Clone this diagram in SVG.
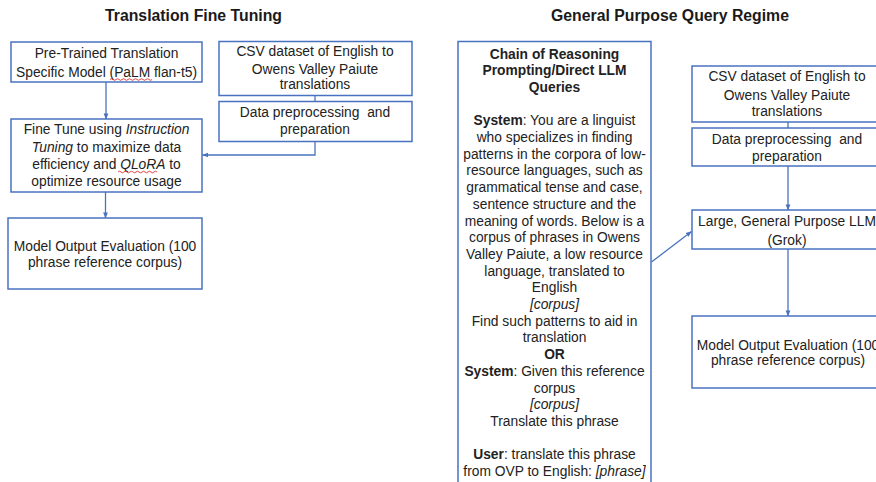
<svg xmlns="http://www.w3.org/2000/svg" width="876" height="482" viewBox="0 0 876 482">
<defs>
<marker id="ah" viewBox="0 0 8 8" refX="7.5" refY="4" markerWidth="6" markerHeight="6" orient="auto" markerUnits="userSpaceOnUse">
<path d="M0,0.8 L8,4 L0,7.2 z" fill="#4a72c0"/>
</marker>
<style>
.box{fill:#fff;stroke:#4a72c0;stroke-width:1.5}
.t{font-family:"Liberation Sans",Arial,sans-serif;font-size:13.8px;fill:#222;text-anchor:middle}
.h{font-family:"Liberation Sans",Arial,sans-serif;font-size:15.8px;font-weight:bold;fill:#1a1a1a;text-anchor:middle}
.b{font-weight:bold}
.i{font-style:italic}
.c{fill:none;stroke:#4a72c0;stroke-width:1.3}
.sq{fill:none;stroke:#e03030;stroke-width:0.9}
</style>
</defs>
<rect width="876" height="482" fill="#fff"/>

<text class="h" x="193.5" y="20.5">Translation Fine Tuning</text>
<text class="h" x="670" y="20.5">General Purpose Query Regime</text>

<g id="connectors">
<line class="c" x1="106" y1="82" x2="106" y2="119" marker-end="url(#ah)"/>
<line class="c" x1="315" y1="95.5" x2="315" y2="101.5"/>
<polyline class="c" points="315,141.5 315,155 202.5,155" marker-end="url(#ah)"/>
<line class="c" x1="105.5" y1="192" x2="105.5" y2="218" marker-end="url(#ah)"/>
<line class="c" x1="788" y1="122" x2="788" y2="128"/>
<line class="c" x1="788" y1="166" x2="788" y2="210" marker-end="url(#ah)"/>
<line class="c" x1="788" y1="249" x2="788" y2="316" marker-end="url(#ah)"/>
<line class="c" x1="651.5" y1="262" x2="691.5" y2="231.5" marker-end="url(#ah)"/>
</g>

<g id="pretrained">
<rect class="box" x="11" y="42" width="191" height="40"/>
<text class="t" x="106.5" y="58">Pre-Trained Translation</text>
<text class="t" x="106.5" y="77">Specific Model (PaLM flan-t5)</text>
<path class="sq" d="M110,79.5 q1.5,-1.6 3,0 t3,0 t3,0 t3,0 t3,0 t3,0 t3,0 t3,0 t3,0 t3,0 t3,0 t3,0 t3,0 t3,0"/>
</g>

<g id="csv-left">
<rect class="box" x="219" y="41.5" width="193" height="54"/>
<text class="t" x="315" y="55.5">CSV dataset of English to</text>
<text class="t" x="315" y="73.5">Owens Valley Paiute</text>
<text class="t" x="315" y="89">translations</text>
</g>

<g id="prep-left">
<rect class="box" x="219" y="101.5" width="193" height="40"/>
<text class="t" x="315" y="116.5" xml:space="preserve">Data preprocessing  and</text>
<text class="t" x="315" y="134">preparation</text>
</g>

<g id="finetune">
<rect class="box" x="11" y="119" width="191" height="73"/>
<text class="t" x="106.5" y="133.5">Fine Tune using <tspan class="i">Instruction</tspan></text>
<text class="t" x="106.5" y="152"><tspan class="i">Tuning</tspan> to maximize data</text>
<text class="t" x="106.5" y="168.5">efficiency and <tspan class="i">QLoRA</tspan> to</text>
<text class="t" x="106.5" y="186">optimize resource usage</text>
<path class="sq" d="M118,172 q1.5,-1.6 3,0 t3,0 t3,0 t3,0 t3,0 t3,0 t3,0 t3,0 t3,0 t3,0 t3,0 t3,0 t3,0"/>
</g>

<g id="eval-left">
<rect class="box" x="8" y="218" width="194" height="71"/>
<text class="t" x="105" y="251">Model Output Evaluation (100</text>
<text class="t" x="105" y="267">phrase reference corpus)</text>
</g>

<g id="prompting">
<rect class="box" x="458" y="41.5" width="193" height="450"/>
<text class="t" x="554.5" y="58.5" font-weight="bold">Chain of Reasoning</text>
<text class="t" x="554.5" y="75.2" font-weight="bold">Prompting/Direct LLM</text>
<text class="t" x="554.5" y="91.9" font-weight="bold">Queries</text>
<text class="t" x="554.5" y="125.3"><tspan class="b">System</tspan>: You are a linguist</text>
<text class="t" x="554.5" y="142">who specializes in finding</text>
<text class="t" x="554.5" y="158.7">patterns in the corpora of low-</text>
<text class="t" x="554.5" y="175.4">resource languages, such as</text>
<text class="t" x="554.5" y="192.1">grammatical tense and case,</text>
<text class="t" x="554.5" y="208.8">sentence structure and the</text>
<text class="t" x="554.5" y="225.5">meaning of words. Below is a</text>
<text class="t" x="554.5" y="242.2">corpus of phrases in Owens</text>
<text class="t" x="554.5" y="258.9">Valley Paiute, a low resource</text>
<text class="t" x="554.5" y="275.6">language, translated to</text>
<text class="t" x="554.5" y="292.3">English</text>
<text class="t i" x="554.5" y="309">[corpus]</text>
<text class="t" x="554.5" y="325.7">Find such patterns to aid in</text>
<text class="t" x="554.5" y="342.4">translation</text>
<text class="t b" x="554.5" y="359.1">OR</text>
<text class="t" x="554.5" y="375.8"><tspan class="b">System</tspan>: Given this reference</text>
<text class="t" x="554.5" y="392.5">corpus</text>
<text class="t i" x="554.5" y="409.2">[corpus]</text>
<text class="t" x="554.5" y="425.9">Translate this phrase</text>
<text class="t" x="554.5" y="459.3"><tspan class="b">User</tspan>: translate this phrase</text>
<text class="t" x="554.5" y="476">from OVP to English: <tspan class="i">[phrase]</tspan></text>
</g>

<g id="csv-right">
<rect class="box" x="692" y="66" width="196" height="56"/>
<text class="t" x="787" y="81">CSV dataset of English to</text>
<text class="t" x="787" y="99.5">Owens Valley Paiute</text>
<text class="t" x="787" y="115.5">translations</text>
</g>

<g id="prep-right">
<rect class="box" x="692" y="128" width="196" height="38"/>
<text class="t" x="787" y="144" xml:space="preserve">Data preprocessing  and</text>
<text class="t" x="787" y="161">preparation</text>
</g>

<g id="llm">
<rect class="box" x="692" y="210" width="196" height="39"/>
<text class="t" x="787" y="226">Large, General Purpose LLM</text>
<text class="t" x="787" y="244.5">(Grok)</text>
</g>

<g id="eval-right">
<rect class="box" x="692" y="316" width="196" height="72"/>
<text class="t" x="788" y="349.5">Model Output Evaluation (100</text>
<text class="t" x="788" y="364.5">phrase reference corpus)</text>
</g>
</svg>
